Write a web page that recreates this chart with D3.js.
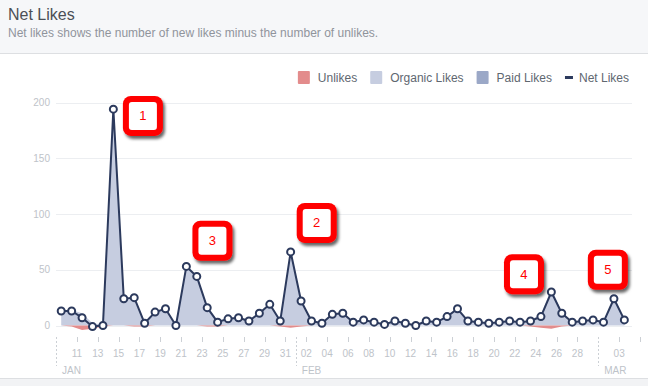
<!DOCTYPE html>
<html>
<head>
<meta charset="utf-8">
<script src="https://cdn.jsdelivr.net/npm/d3@7"></script>
<style>
body { margin: 0; background: #fff; }
svg { display: block; font-family: Helvetica, Arial, "Liberation Sans", sans-serif; }
</style>
</head>
<body>
<div id="chart"></div>
<script>
// daily values, Jan 9 2016 .. Mar 3 2016
var startDate = new Date(2016, 0, 9);
var netLikes = [13, 13, 7, -1, 0, 194, 24, 25, 2, 12, 15, 0, 53, 44, 16, 3, 6, 7, 4, 11, 19, 4, 66,
    22, 4, 2, 10, 11, 3, 5, 3, 1, 4, 2, 0, 4, 3, 8, 15, 4, 3, 2, 3, 4, 3, 4, 8, 30, 11, 3, 4, 5,
    3, 24, 5];
var unlikes = [0, 1, 4, 3, 1, 0, 0, 1, 1, 0, 0, 0, 0, 0, 1, 1, 0, 0, 0, 0, 0, 1, 2,
    1, 0, 0, 0, 0, 0, 0, 0, 0, 0, 0, 0, 0, 0, 0, 0, 0, 0, 0, 0, 0, 0, 1, 2, 3, 1, 0, 0, 0,
    0, 0, 0];
var organicLikes = [13, 14, 11, 2, 1, 194, 24, 26, 3, 12, 15, 0, 53, 44, 17, 4, 6, 7, 4, 11, 19, 5, 68,
    23, 4, 2, 10, 11, 3, 5, 3, 1, 4, 2, 0, 4, 3, 8, 15, 4, 3, 2, 3, 4, 3, 5, 10, 33, 12, 3, 4, 5,
    3, 24, 5];
var paidLikes = [0, 0, 0, 0, 0, 0, 0, 0, 0, 0, 0, 0, 0, 0, 0, 0, 0, 0, 0, 0, 0, 0, 0,
    0, 0, 0, 0, 0, 0, 0, 0, 0, 0, 0, 0, 0, 0, 0, 0, 0, 0, 0, 0, 0, 0, 0, 0, 0, 0, 0, 0, 0,
    0, 0, 0];
var yTicks = [0, 50, 100, 150, 200];
var legendLabels = ["Unlikes", "Organic Likes", "Paid Likes", "Net Likes"];
var legendColors = ["#e38c8c", "#c6cde0", "#9ba8c7", "#2c3a5d"];
// numbered call-outs, placed in data space (date, value)
var notes = [
    { label: "1", date: new Date(2016, 0, 17, 8), value: 188 },
    { label: "2", date: new Date(2016, 1, 3, 0), value: 92 },
    { label: "3", date: new Date(2016, 0, 24, 0), value: 76 },
    { label: "4", date: new Date(2016, 1, 22, 21), value: 46 },
    { label: "5", date: new Date(2016, 2, 1, 22), value: 50 }
];

var width = 648, height = 386;
var svg = d3.select("#chart").append("svg").attr("width", width).attr("height", height);

// header
svg.append("rect").attr("width", width).attr("height", 53).attr("fill", "#f6f7f9");
svg.append("line").attr("x1", 0).attr("x2", width).attr("y1", 53.5).attr("y2", 53.5).attr("stroke", "#dddfe2");
svg.append("text").attr("x", 8).attr("y", 20).attr("font-size", 16).attr("fill", "#4b4f56").text("Net Likes");
svg.append("text").attr("x", 8).attr("y", 37).attr("font-size", 12).attr("fill", "#90949c")
    .text("Net likes shows the number of new likes minus the number of unlikes.");
// footer strip
svg.append("rect").attr("y", 379).attr("width", width).attr("height", height - 379).attr("fill", "#f2f3f5");
svg.append("line").attr("x1", 0).attr("x2", width).attr("y1", 378.5).attr("y2", 378.5).attr("stroke", "#dddfe2");

var data = netLikes.map(function(v, i) {
    var day = d3.timeDay.offset(startDate, i);
    return {
        date: day,
        mid: d3.timeHour.offset(day, 12),
        net: v,
        unlikes: unlikes[i],
        organic: organicLikes[i],
        paid: paidLikes[i]
    };
});

var plotLeft = 56, plotRight = 632;
var x = d3.scaleTime().domain([startDate, new Date(2016, 2, 5)]).range([plotLeft, 640]);
var y = d3.scaleLinear().domain([0, 200]).range([325.5, 102.5]);

// grid + y labels
var grid = svg.append("g");
grid.selectAll("line").data(yTicks).enter().append("line")
    .attr("x1", plotLeft).attr("x2", plotRight)
    .attr("y1", function(d) { return Math.round(y(d)) + 0.5; })
    .attr("y2", function(d) { return Math.round(y(d)) + 0.5; })
    .attr("stroke", "#eceef1");
grid.selectAll("text").data(yTicks).enter().append("text")
    .attr("x", 50).attr("y", function(d) { return y(d); }).attr("dy", "0.35em")
    .attr("text-anchor", "end").attr("font-size", 10).attr("fill", "#bec3c9")
    .text(function(d) { return d; });

// x axis
var tickDays = d3.timeDay.range(startDate, new Date(2016, 2, 6), 2);
var monthStarts = [startDate, new Date(2016, 1, 1), new Date(2016, 2, 1)];
var isMonthMark = function(d) {
    return monthStarts.some(function(m) { return +m == +d; });
};
var ax = svg.append("g");
ax.selectAll("line.tick").data(tickDays.filter(function(d) { return !isMonthMark(d); })).enter()
    .append("line").attr("class", "tick")
    .attr("x1", function(d) { return Math.round(x(d)) + 0.5; })
    .attr("x2", function(d) { return Math.round(x(d)) + 0.5; })
    .attr("y1", 337).attr("y2", 342).attr("stroke", "#ccd0d5");
ax.selectAll("text.day").data(tickDays.filter(function(d) { return !isMonthMark(d) && x(d) < plotRight; })).enter()
    .append("text").attr("class", "day")
    .attr("x", function(d) { return x(d); }).attr("y", 356.5)
    .attr("text-anchor", "middle").attr("font-size", 10).attr("fill", "#bec3c9")
    .text(d3.timeFormat("%d"));
ax.selectAll("line.month").data(monthStarts).enter()
    .append("line").attr("class", "month")
    .attr("x1", function(d) { return Math.round(x(d)) + 0.5; })
    .attr("x2", function(d) { return Math.round(x(d)) + 0.5; })
    .attr("y1", 337).attr("y2", 366).attr("stroke", "#ccd0d5").attr("stroke-dasharray", "2,2");
ax.selectAll("text.month").data(monthStarts).enter()
    .append("text").attr("class", "month")
    .attr("x", function(d) { return x(d) + 6; }).attr("y", 374)
    .attr("font-size", 10).attr("fill", "#bec3c9")
    .text(function(d) { return d3.timeFormat("%b")(d).toUpperCase(); });

// areas
var organicArea = d3.area()
    .x(function(d) { return x(d.mid); })
    .y0(y(0))
    .y1(function(d) { return y(d.organic); });
var paidArea = d3.area()
    .x(function(d) { return x(d.mid); })
    .y0(function(d) { return y(d.organic); })
    .y1(function(d) { return y(d.organic + d.paid); });
var unlikeArea = d3.area()
    .x(function(d) { return x(d.mid); })
    .y0(y(0))
    .y1(function(d) { return y(-d.unlikes); });

svg.append("path").datum(data).attr("d", organicArea).attr("fill", legendColors[1]);
svg.append("path").datum(data).attr("d", paidArea).attr("fill", legendColors[2]);
svg.append("path").datum(data).attr("d", unlikeArea).attr("fill", legendColors[0]);

var netLine = d3.line()
    .x(function(d) { return x(d.mid); })
    .y(function(d) { return y(d.net); });
svg.append("path").datum(data).attr("d", netLine)
    .attr("fill", "none").attr("stroke", legendColors[3]).attr("stroke-width", 2)
    .attr("stroke-linejoin", "round");
svg.append("g").selectAll("circle").data(data).enter().append("circle")
    .attr("cx", function(d) { return x(d.mid); })
    .attr("cy", function(d) { return y(d.net); })
    .attr("r", 3.5)
    .attr("fill", "#fff").attr("stroke", legendColors[3]).attr("stroke-width", 2);

// legend, right aligned
var legend = svg.append("g");
var lx = 629;
for (var i = legendLabels.length - 1; i >= 0; i--) {
    var t = legend.append("text").attr("y", 82).attr("font-size", 12).attr("fill", "#606770")
        .text(legendLabels[i]);
    var w = t.node().getComputedTextLength();
    lx -= w;
    t.attr("x", lx);
    if (i == 3) {
        lx -= 6;
        legend.append("rect").attr("x", lx - 8).attr("y", 76).attr("width", 8).attr("height", 3)
            .attr("fill", legendColors[i]);
        lx -= 8;
    } else {
        lx -= 8;
        legend.append("rect").attr("x", lx - 12).attr("y", 71).attr("width", 12).attr("height", 13)
            .attr("rx", 1).attr("fill", legendColors[i]);
        lx -= 12;
    }
    lx -= 13;
}

// call-out boxes
var defs = svg.append("defs");
var f = defs.append("filter").attr("id", "shadow").attr("x", "-30%").attr("y", "-30%")
    .attr("width", "160%").attr("height", "160%");
f.append("feDropShadow").attr("dx", 2).attr("dy", 3).attr("stdDeviation", 1.5)
    .attr("flood-color", "#000").attr("flood-opacity", 0.6);

var boxes = svg.append("g").selectAll("g").data(notes).enter().append("g")
    .attr("transform", function(d) { return "translate(" + x(d.date) + "," + y(d.value) + ")"; });
boxes.append("rect").attr("x", -20).attr("y", -20).attr("width", 40).attr("height", 40)
    .attr("rx", 8).attr("fill", "#f00").attr("filter", "url(#shadow)");
boxes.append("rect").attr("x", -14).attr("y", -14).attr("width", 28).attr("height", 28)
    .attr("rx", 3).attr("fill", "#fff");
boxes.append("text").attr("text-anchor", "middle").attr("dy", "0.35em")
    .attr("font-size", 13).attr("fill", "#f00")
    .text(function(d) { return d.label; });
</script>
</body>
</html>
